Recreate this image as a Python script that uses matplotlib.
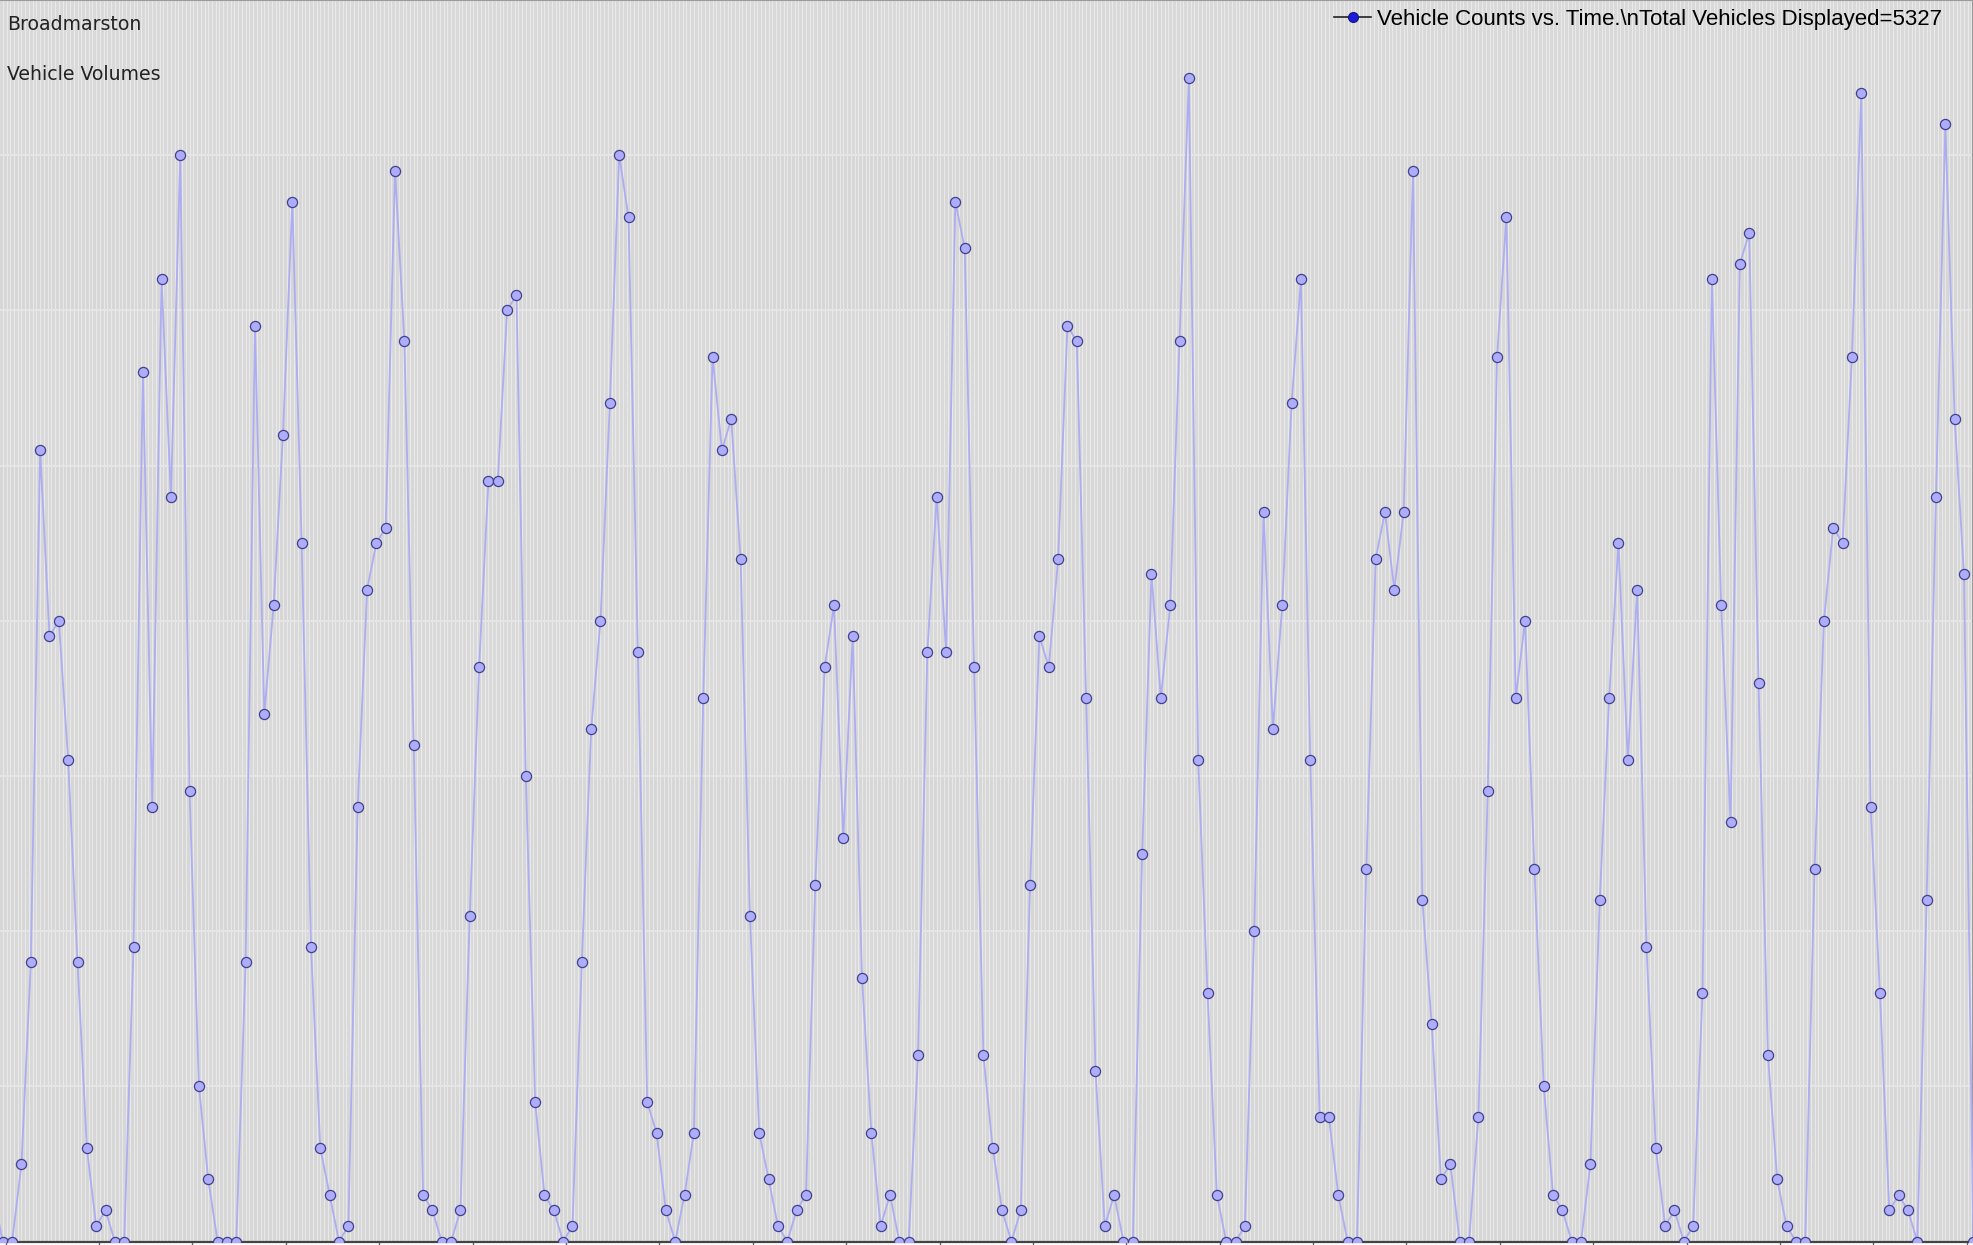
import numpy as np
import matplotlib
matplotlib.use("Agg")
import matplotlib.pyplot as plt
from matplotlib.lines import Line2D

# vehicle counts per interval, left to right as shown in the window
counts = [3, 0, 0, 5, 18, 51, 39, 40, 31, 18, 6, 1, 2, 0, 0, 19, 56, 28, 62, 48,
          70, 29, 10, 4, 0, 0, 0, 18, 59, 34, 41, 52,
          67, 45, 19, 6, 3, 0, 1, 28, 42, 45, 46, 69, 58, 32, 3, 2, 0, 0,
          2, 21, 37, 49, 49, 60, 61, 30, 9, 3, 2, 0,
          1, 18, 33, 40, 54, 70, 66, 38, 9, 7, 2, 0, 3, 7, 35, 57, 51, 53,
          44, 21, 7, 4, 1, 0, 2, 3, 23, 37, 41, 26,
          39, 17, 7, 1, 3, 0, 0, 12, 38, 48, 38, 67, 64, 37, 12, 6, 2, 0,
          2, 23, 39, 37, 44, 59, 58, 35, 11, 1, 3, 0,
          0, 25, 43, 35, 41, 58, 75, 31, 16, 3, 0, 0, 1, 20, 47, 33, 41, 54,
          62, 31, 8, 8, 3, 0, 0, 24, 44, 47, 42, 47, 69,
          22, 14, 4, 5, 0, 0, 8, 29, 57, 66, 35, 40, 24, 10, 3, 2, 0, 0,
          5, 22, 35, 45, 31, 42, 19, 6, 1, 2, 0, 1,
          16, 62, 41, 27, 63, 65, 36, 12, 4, 1, 0, 0, 24, 40, 46, 45, 57, 74,
          28, 16, 2, 3, 2, 0, 22, 48, 72, 53, 43]
next_count = [0]  # first point past the right edge
total = sum(counts)

location = "Broadmarston"
subtitle = "Vehicle Volumes"
series_label = "Vehicle Counts vs. Time.\\nTotal Vehicles Displayed=%d" % total

W, H = 1973, 1245
fig = plt.figure(figsize=(W / 100, H / 100), dpi=100)
ax = fig.add_axes([0, 3.5 / H, 1, 1 - 3.5 / H])

y = counts + next_count
x = np.arange(len(y))

ax.set_facecolor("#d6d6d6")
for lo in range(10, 80, 20):
    ax.axhspan(lo, lo + 10, color="#d9d9d9", zorder=0, lw=0)
ax.vlines(np.arange(-1, len(y) + 1, 0.4), 0, 80, colors="#ebebeb",
          linewidth=0.8, alpha=0.9, zorder=0.5)
ax.set_yticks(np.arange(10, 80, 10))
ax.yaxis.grid(True, color="#e6e6e6", linewidth=1.4, zorder=0.6)
ax.set_axisbelow(True)

ax.plot(x, y, color="#adadf2", linewidth=1.3, marker="o", markersize=7.3,
        markerfacecolor="#adadfb", markeredgecolor="#40408c",
        markeredgewidth=0.9, zorder=3)

ax.set_xlim(0.7, 0.7 + W / 9.339)
ax.set_ylim(0, 80)

ax.set_xticks(np.arange(1.3, len(y), 10))
ax.tick_params(axis="x", direction="out", length=3, width=1.0, color="#666666",
               labelbottom=False)
ax.tick_params(axis="y", left=False, labelleft=False)
ax.spines["left"].set_visible(False)
ax.spines["bottom"].set_color("#444444")
ax.spines["bottom"].set_linewidth(1.6)
ax.spines["top"].set_color("#9a9a9a")
ax.spines["top"].set_linewidth(1.5)
ax.spines["right"].set_color("#9a9a9a")
ax.spines["right"].set_linewidth(1.5)

fig.text(7 / W, 1 - 30 / H, location, fontsize=13.6, color="#222222",
         family="DejaVu Sans", va="baseline", ha="left")
fig.text(7 / W, 1 - 80 / H, subtitle, fontsize=13.6, color="#222222",
         family="DejaVu Sans", va="baseline", ha="left")

proxy = Line2D([], [], color="#222222", linewidth=1.2, marker="o",
               markersize=7, markerfacecolor="#1a1ae0", markeredgecolor="#1a1a80")
ax.legend([proxy], [series_label], loc="upper right", frameon=False,
          bbox_to_anchor=(1942 / W, 1 - 9 / H), bbox_transform=fig.transFigure,
          borderpad=0, borderaxespad=0, handlelength=1.7, handletextpad=0.25,
          prop={"family": "Liberation Sans", "size": 16})

fig.savefig("out.png", dpi=100)
